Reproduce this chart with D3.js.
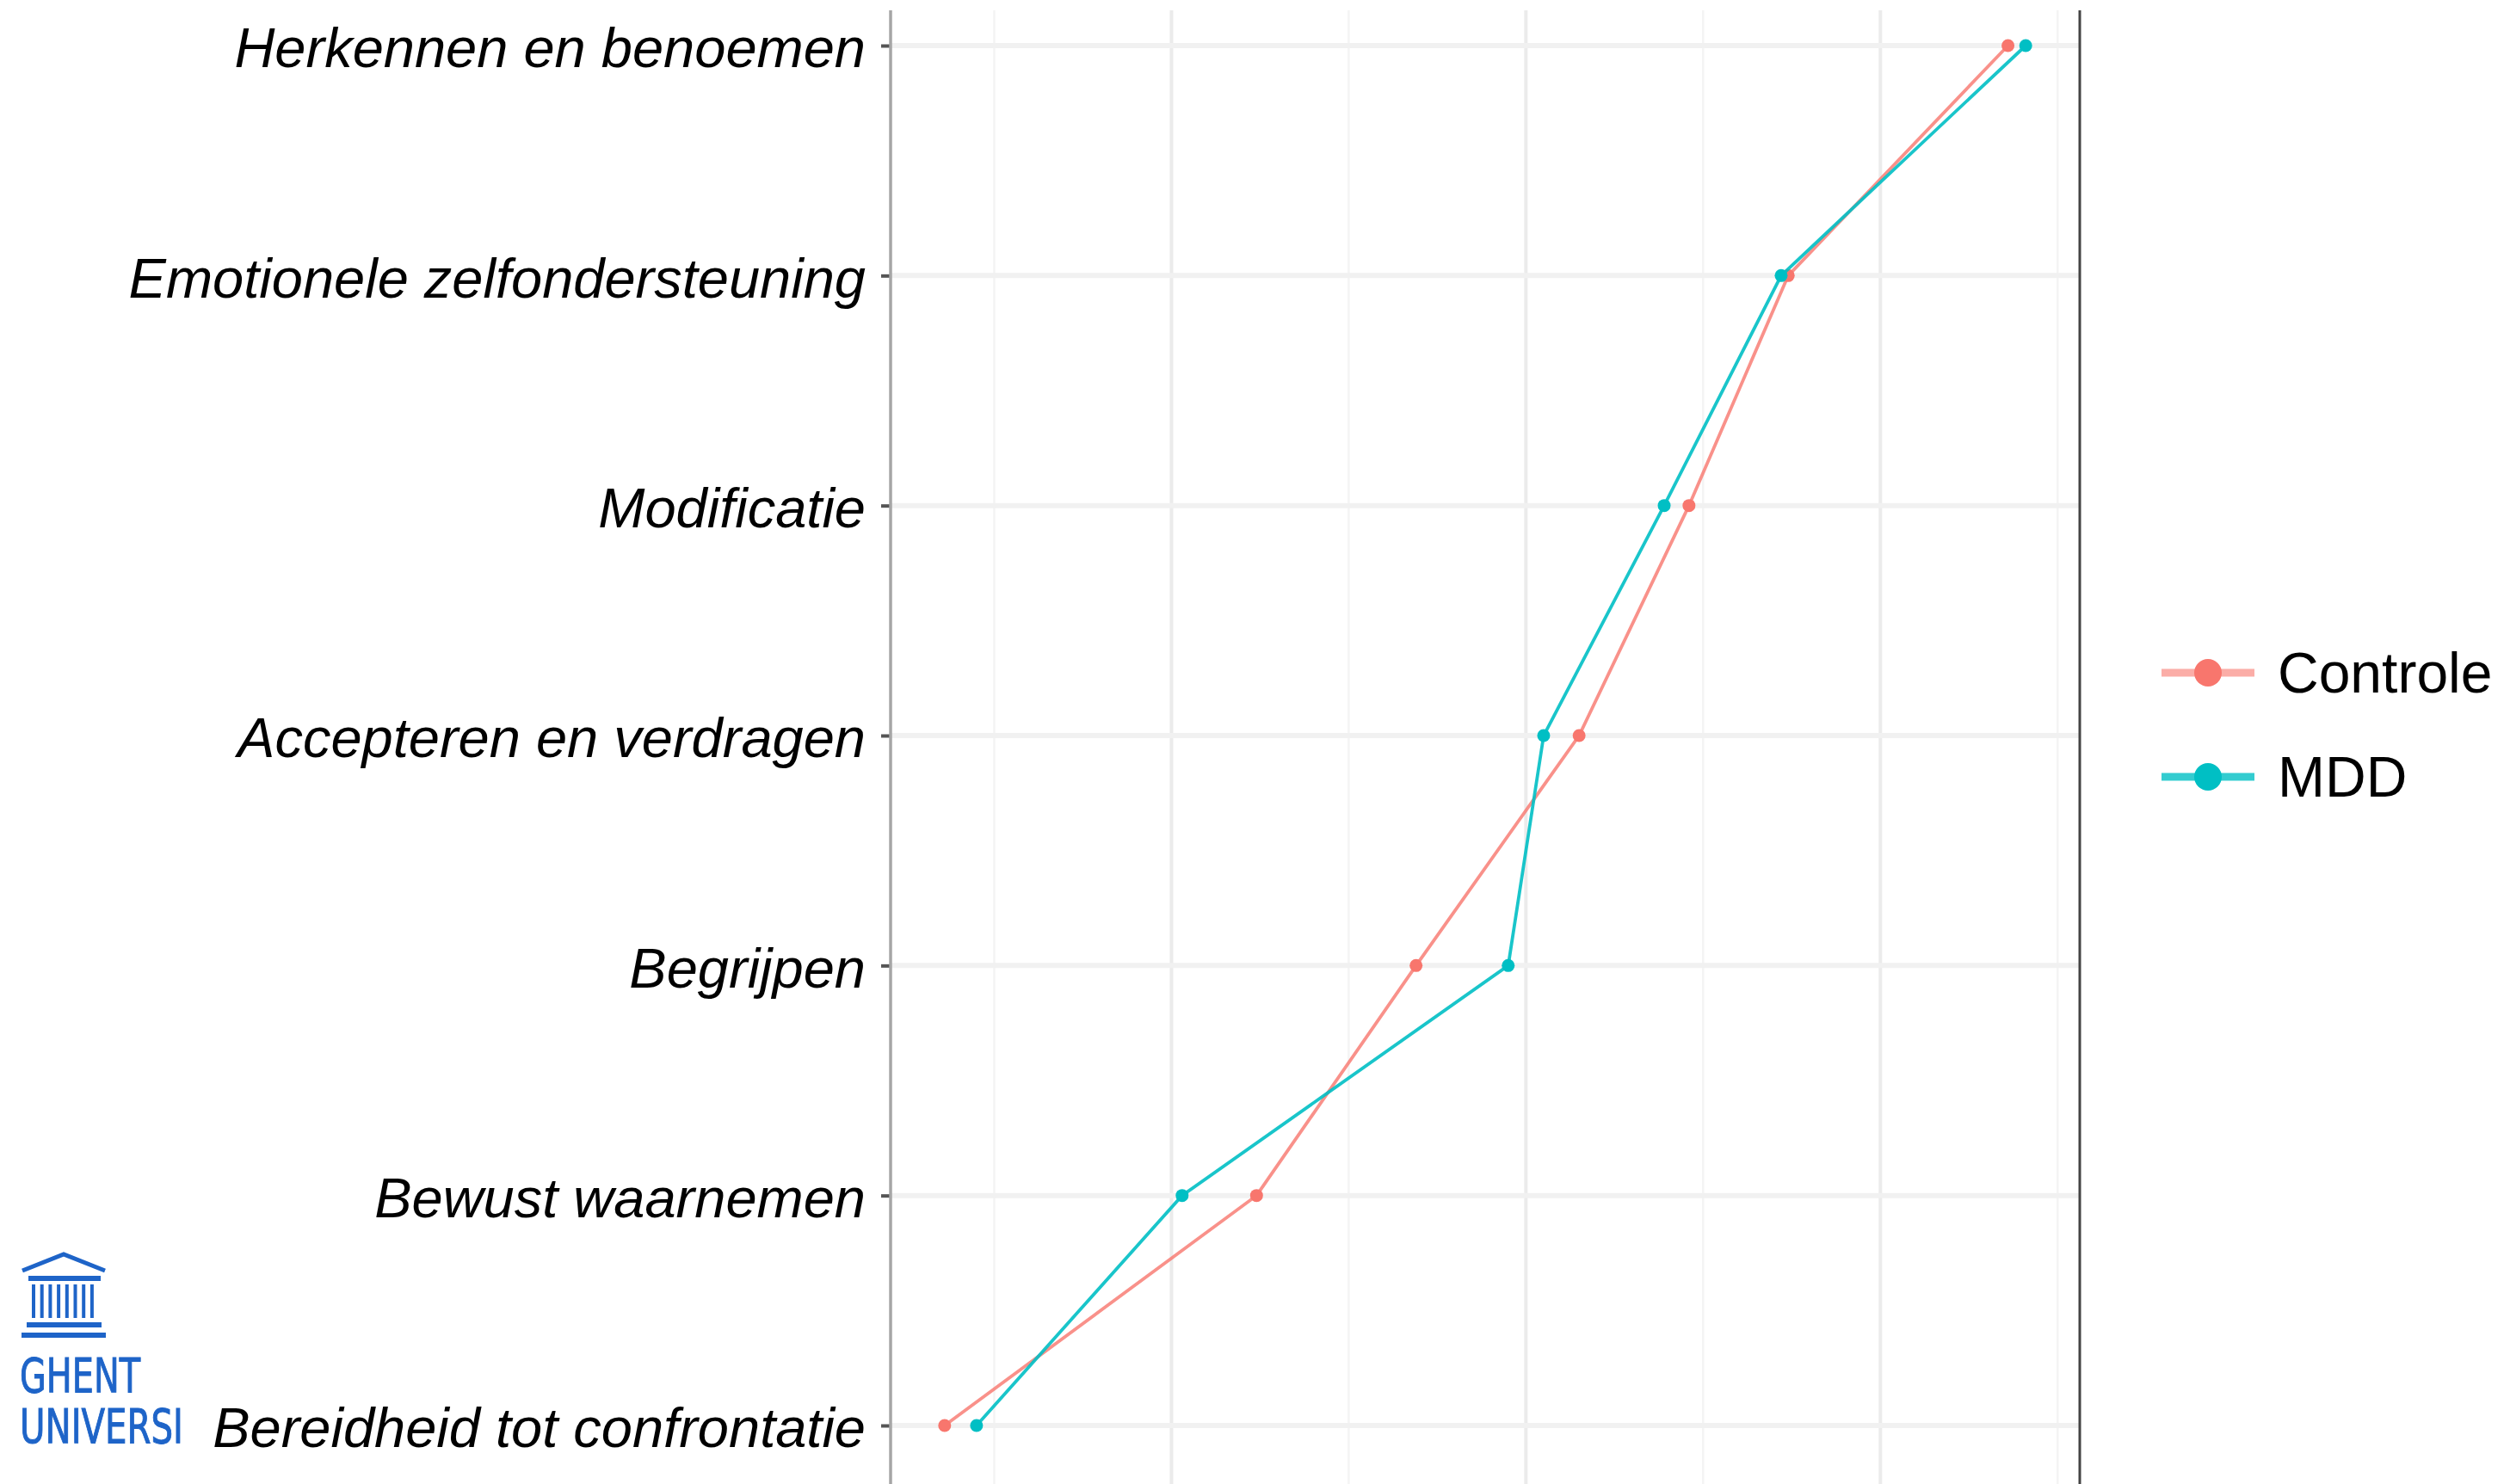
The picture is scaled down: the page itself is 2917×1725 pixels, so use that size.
<!DOCTYPE html>
<html>
<head>
<meta charset="utf-8">
<script src="https://cdn.jsdelivr.net/npm/d3@7"></script>
<style>
  body { margin: 0; background: #fff; }
  svg { display: block; }
</style>
</head>
<body>
<div id="chart"></div>
<script>
// data, bottom to top
var categories = ["Bereidheid tot confrontatie", "Bewust waarnemen", "Begrijpen",
  "Accepteren en verdragen", "Modificatie", "Emotionele zelfondersteuning", "Herkennen en benoemen"];
var controle = [1.36, 2.24, 2.69, 3.15, 3.46, 3.74, 4.36];
var mdd      = [1.45, 2.03, 2.95, 3.05, 3.39, 3.72, 4.41];
var groups = ["Controle", "MDD"];
var colors = ["#F8766D", "#00BFC4"];
var majorTicks = [2, 3, 4];
var minorTicks = [1.5, 2.5, 3.5, 4.5];

var svgWidth = 2917;
var svgHeight = 1725;

var panel = { left: 1035, right: 2417, top: 12, bottom: 1725 };

var svg = d3.select("#chart")
    .append("svg")
    .attr("width", svgWidth)
    .attr("height", svgHeight);

// ****************************************************
// scales (ggplot style 5% expansion on x)
var allVals = controle.concat(mdd);
var xMin = d3.min(allVals), xMax = d3.max(allVals);
var pad = (xMax - xMin) * 0.05;

var xScale = d3.scaleLinear()
    .domain([xMin - pad, xMax + pad])
    .range([panel.left, panel.right]);

var yScale = d3.scalePoint()
    .domain(categories)
    .range([1657, 53]);

// ****************************************************
// grid
svg.append("g").selectAll("line.minor")
    .data(minorTicks).enter()
    .append("line")
    .attr("x1", d => xScale(d)).attr("x2", d => xScale(d))
    .attr("y1", panel.top).attr("y2", panel.bottom)
    .attr("stroke", "#f4f4f4")
    .attr("stroke-width", 2.5);

svg.append("g").selectAll("line.major")
    .data(majorTicks).enter()
    .append("line")
    .attr("x1", d => xScale(d)).attr("x2", d => xScale(d))
    .attr("y1", panel.top).attr("y2", panel.bottom)
    .attr("stroke", "#ebebeb")
    .attr("stroke-width", 4);

svg.append("g").selectAll("line.hgrid")
    .data(categories).enter()
    .append("line")
    .attr("x1", panel.left).attr("x2", panel.right)
    .attr("y1", d => yScale(d)).attr("y2", d => yScale(d))
    .attr("stroke", "#f1f1f1")
    .attr("stroke-width", 6);

// ****************************************************
// y axis
var yAxis = d3.axisLeft(yScale).tickSize(11).tickPadding(18);
var yG = svg.append("g")
    .attr("transform", `translate(${panel.left}, 0)`)
    .call(yAxis);
yG.select(".domain").remove();
yG.selectAll(".tick line").attr("stroke", "#555").attr("stroke-width", 4);
yG.selectAll(".tick text")
    .attr("fill", "#000")
    .attr("dy", "0.38em")
    .style("font-family", "'Liberation Sans', Arial, sans-serif")
    .style("font-style", "italic")
    .style("font-size", "65px");

// axis lines
svg.append("line")
    .attr("x1", panel.left).attr("x2", panel.left)
    .attr("y1", panel.top).attr("y2", panel.bottom)
    .attr("stroke", "#a6a6a6").attr("stroke-width", 3.5);
svg.append("line")
    .attr("x1", panel.right).attr("x2", panel.right)
    .attr("y1", panel.top).attr("y2", panel.bottom)
    .attr("stroke", "#444").attr("stroke-width", 3);

// ****************************************************
// series
var series = [controle, mdd];
var line = d3.line()
    .x(d => xScale(d.v))
    .y(d => yScale(d.c));

series.forEach(function(vals, i) {
  var pts = vals.map((v, j) => ({ v: v, c: categories[j] }));
  svg.append("path")
      .datum(pts)
      .attr("d", line)
      .attr("fill", "none")
      .attr("stroke", colors[i])
      .attr("stroke-opacity", i === 0 ? 0.8 : 0.9)
      .attr("stroke-width", 3.8);
  svg.append("g").selectAll("circle")
      .data(pts).enter()
      .append("circle")
      .attr("cx", d => xScale(d.v))
      .attr("cy", d => yScale(d.c))
      .attr("r", 7.5)
      .attr("fill", colors[i]);
});

// ****************************************************
// legend
var legend = svg.append("g").attr("transform", "translate(2512, 782)");
groups.forEach(function(g, i) {
  var row = legend.append("g").attr("transform", `translate(0, ${i * 121})`);
  row.append("line")
      .attr("x1", 0).attr("x2", 108)
      .attr("stroke", colors[i])
      .attr("stroke-opacity", i === 0 ? 0.6 : 0.8)
      .attr("stroke-width", 9);
  row.append("circle")
      .attr("cx", 54).attr("r", 16)
      .attr("fill", colors[i]);
  row.append("text")
      .attr("x", 135).attr("dy", "0.35em")
      .style("font-family", "'Liberation Sans', Arial, sans-serif")
      .style("font-size", "66px")
      .text(g);
});

// ****************************************************
// UGent logo (decoration)
var blue = "#1E64C8";
var logo = svg.append("g");
logo.append("path")
    .attr("d", "M26,1477 L74,1458 L122,1477")
    .attr("fill", "none").attr("stroke", blue).attr("stroke-width", 5);
logo.append("rect").attr("x", 33).attr("y", 1483).attr("width", 84).attr("height", 6).attr("fill", blue);
d3.range(8).forEach(function(k) {
  logo.append("rect").attr("x", 37 + k * 9.7).attr("y", 1493).attr("width", 4).attr("height", 39).attr("fill", blue);
});
logo.append("rect").attr("x", 31).attr("y", 1537).attr("width", 87).attr("height", 6).attr("fill", blue);
logo.append("rect").attr("x", 25).attr("y", 1549).attr("width", 98).attr("height", 6).attr("fill", blue);
logo.append("text")
    .attr("x", 23).attr("y", 1618)
    .attr("textLength", 140).attr("lengthAdjust", "spacingAndGlyphs")
    .attr("fill", blue)
    .style("font-family", "'DejaVu Sans Condensed', 'Liberation Sans', sans-serif")
    .style("font-size", "56px")
    .style("stroke", blue).style("stroke-width", 1)
    .text("GHENT");
logo.append("text")
    .attr("x", 23).attr("y", 1677)
    .attr("textLength", 190).attr("lengthAdjust", "spacingAndGlyphs")
    .attr("fill", blue)
    .style("font-family", "'DejaVu Sans Condensed', 'Liberation Sans', sans-serif")
    .style("font-size", "56px")
    .style("stroke", blue).style("stroke-width", 1)
    .text("UNIVERSI");
</script>
</body>
</html>
